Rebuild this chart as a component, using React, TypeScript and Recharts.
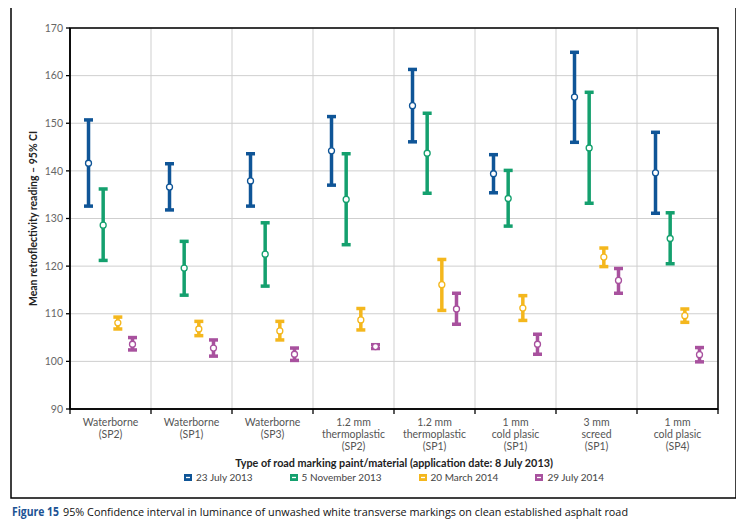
import React from "react";
import {
  ComposedChart,
  Scatter,
  ErrorBar,
  XAxis,
  YAxis,
  CartesianGrid,
  ReferenceArea,
  Legend,
} from "recharts";

const categories = [
  ["Waterborne", "(SP2)"],
  ["Waterborne", "(SP1)"],
  ["Waterborne", "(SP3)"],
  ["1.2 mm", "thermoplastic", "(SP2)"],
  ["1.2 mm", "thermoplastic", "(SP1)"],
  ["1 mm", "cold plasic", "(SP1)"],
  ["3 mm", "screed", "(SP1)"],
  ["1 mm", "cold plasic", "(SP4)"],
];

const yTicks = [90, 100, 110, 120, 130, 140, 150, 160, 170];

const july2013Mean = [141.6, 136.6, 137.9, 144.2, 153.7, 139.4, 155.5, 139.6];
const july2013Low = [132.6, 131.8, 132.6, 137.0, 146.1, 135.4, 146.0, 131.1];
const july2013High = [150.7, 141.5, 143.6, 151.4, 161.3, 143.4, 164.9, 148.1];

const nov2013Mean = [128.6, 119.6, 122.5, 134.0, 143.7, 134.2, 144.8, 125.8];
const nov2013Low = [121.2, 113.9, 115.8, 124.5, 135.3, 128.4, 133.2, 120.5];
const nov2013High = [136.2, 125.2, 129.1, 143.6, 152.1, 140.1, 156.5, 131.2];

const mar2014Mean = [108.1, 106.8, 106.4, 108.7, 116.1, 111.2, 121.9, 109.6];
const mar2014Low = [106.8, 105.4, 104.5, 106.6, 110.7, 108.6, 119.9, 108.2];
const mar2014High = [109.3, 108.4, 108.4, 111.1, 121.4, 113.8, 123.8, 111.0];

const jul2014Mean = [103.6, 102.8, 101.5, 103.1, 111.0, 103.6, 117.0, 101.4];
const jul2014Low = [102.4, 101.1, 100.2, 102.7, 107.8, 101.5, 114.3, 99.9];
const jul2014High = [105.0, 104.5, 102.8, 103.5, 114.3, 105.7, 119.5, 102.9];

const series = [
  { name: "23 July 2013", color: "#0f5597", mean: july2013Mean, low: july2013Low, high: july2013High },
  { name: "5 November 2013", color: "#14a06e", mean: nov2013Mean, low: nov2013Low, high: nov2013High },
  { name: "20 March 2014", color: "#f4b71d", mean: mar2014Mean, low: mar2014Low, high: mar2014High },
  { name: "29 July 2014", color: "#a8519e", mean: jul2014Mean, low: jul2014Low, high: jul2014High },
];

// series sit side by side inside each category band
const SLOT = 0.181;

const buildRows = (s: typeof series[number], si: number) =>
  s.mean.map((m, i) => ({
    x: i + 0.5 + (si - 1.5) * SLOT,
    y: m,
    err: [m - s.low[i], s.high[i] - m],
  }));

// integer ticks = band edges (tick marks + grid), half ticks = labels
const gridTicks = categories.map((_, i) => i).concat([categories.length]);
const allTicks = [...gridTicks, ...categories.map((_, i) => i + 0.5)].sort((a, b) => a - b);

const FONT = "Lato, 'Open Sans', sans-serif";

const XTick = (props: any) => {
  const { x, y, payload } = props;
  const v = payload.value;
  if (Number.isInteger(v)) {
    return <line x1={x} x2={x} y1={y - 5} y2={y} stroke="#000" strokeWidth={1.3} />;
  }
  const lines = categories[Math.floor(v)] || [];
  return (
    <text x={x} y={y} textAnchor="middle" fontSize={10.5} fill="#555" fontFamily={FONT}>
      {lines.map((l, k) => (
        <tspan key={k} x={x} dy={k === 0 ? 12 : 12.2}>
          {l}
        </tspan>
      ))}
    </text>
  );
};

const Dot = (props: any) => {
  const { cx, cy, fill } = props;
  return <circle cx={cx} cy={cy} r={3} fill="#fff" stroke={fill} strokeWidth={1.3} />;
};

const LegendContent = () => (
  <div
    style={{
      display: "flex",
      justifyContent: "center",
      gap: 37,
      fontFamily: FONT,
      fontSize: 10,
      color: "#444",
      lineHeight: "14px",
    }}
  >
    {series.map((s) => (
      <div key={s.name} style={{ display: "flex", alignItems: "center", gap: 4 }}>
        <svg width={8} height={7}>
          <rect x={0} y={0} width={8} height={7} fill={s.color} />
          <line x1={2} x2={6} y1={3.5} y2={3.5} stroke="#fff" strokeWidth={1.3} />
        </svg>
        <span>{s.name}</span>
      </div>
    ))}
  </div>
);

const YTitle = (props: any) => {
  const { viewBox } = props;
  const cx = 33;
  const cy = viewBox.y + viewBox.height / 2;
  return (
    <text
      x={cx}
      y={cy}
      transform={`rotate(-90 ${cx} ${cy})`}
      textAnchor="middle"
      dominantBaseline="central"
      fontSize={10.5}
      fontWeight={700}
      fill="#222"
      fontFamily={FONT}
    >
      Mean retroflectivity reading – 95% CI
    </text>
  );
};

const XTitle = (props: any) => {
  const { viewBox } = props;
  return (
    <text
      x={viewBox.x + viewBox.width / 2}
      y={462}
      textAnchor="middle"
      dominantBaseline="central"
      fontSize={10.8}
      fontWeight={700}
      fill="#222"
      fontFamily={FONT}
    >
      Type of road marking paint/material (application date: 8 July 2013)
    </text>
  );
};

export default function App() {
  return (
    <div style={{ position: "relative", width: 744, height: 531, margin: "-8px 0 0 -8px", background: "#fff" }}>
      <svg width={744} height={531} style={{ position: "absolute", left: 0, top: 0 }}>
        <rect x={11} y={7} width={725} height={491} fill="none" stroke="#000" strokeWidth={1.5} />
        <text x={12} y={516} fontSize={11.5} fontFamily="'Open Sans', sans-serif" fontWeight={700} fill="#1c5394"
          textLength={47} lengthAdjust="spacingAndGlyphs">
          Figure 15
        </text>
        <text x={63} y={516} fontSize={11.5} fontFamily="'Open Sans', sans-serif" fill="#111"
          textLength={565} lengthAdjust="spacingAndGlyphs">
          95% Confidence interval in luminance of unwashed white transverse markings on clean established asphalt road
        </text>
      </svg>
      <div style={{ position: "absolute", left: 0, top: 0 }}>
        <ComposedChart width={744} height={531} margin={{ top: 28, right: 26, left: 0, bottom: 62 }}>
          <CartesianGrid stroke="#cfcfcf" strokeWidth={1} verticalValues={gridTicks} />
          <XAxis
            type="number"
            dataKey="x"
            domain={[0, categories.length]}
            ticks={allTicks}
            interval={0}
            height={60}
            tickSize={5}
            tickMargin={0}
            tickLine={false}
            tick={<XTick />}
            axisLine={{ stroke: "#000", strokeWidth: 1.5 }}
            label={<XTitle />}
          />
          <YAxis
            type="number"
            dataKey="y"
            domain={[90, 170]}
            ticks={yTicks}
            interval={0}
            width={70}
            tickSize={4}
            tickMargin={3}
            tick={{ fontSize: 10.5, fill: "#666", fontFamily: FONT }}
            tickLine={{ stroke: "#000", strokeWidth: 1.3 }}
            axisLine={{ stroke: "#000", strokeWidth: 1.5 }}
            label={<YTitle />}
          />
          <ReferenceArea
            x1={0}
            x2={categories.length}
            y1={90}
            y2={170}
            fill="none"
            stroke="#000"
            strokeWidth={1.5}
          />
          {series.map((s, si) => (
            <Scatter
              key={s.name}
              name={s.name}
              data={buildRows(s, si)}
              fill={s.color}
              shape={<Dot />}
              isAnimationActive={false}
            >
              <ErrorBar
                dataKey="err"
                direction="y"
                width={4.5}
                stroke={s.color}
                strokeWidth={3.5}
                isAnimationActive={false}
              />
            </Scatter>
          ))}
          <Legend
            content={<LegendContent />}
            wrapperStyle={{ position: "absolute", left: 70, top: 470, width: 648, height: 0 }}
          />
        </ComposedChart>
      </div>
    </div>
  );
}
